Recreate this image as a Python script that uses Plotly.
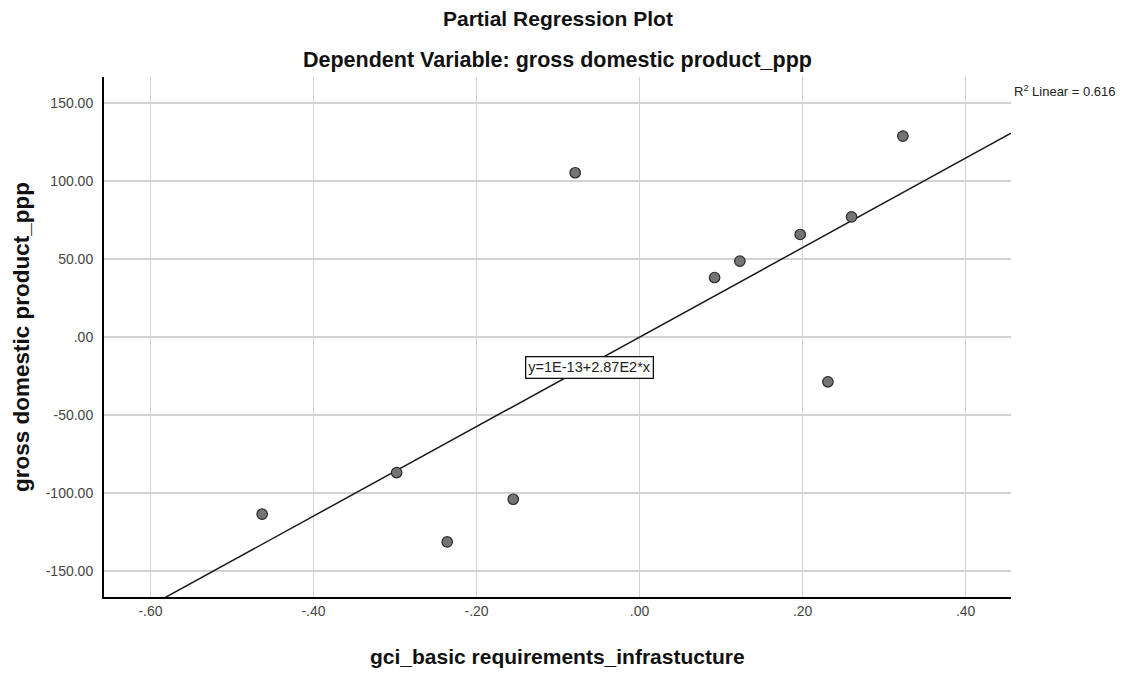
import numpy as np
import plotly.graph_objects as go

# ---- data ----
x_vals = [-0.463, -0.298, -0.236, -0.155, -0.079, 0.092, 0.123, 0.197, 0.231, 0.260, 0.323]
y_vals = [-113.6, -86.9, -131.4, -104.0, 105.4, 38.2, 48.7, 65.8, -28.7, 77.1, 128.9]

fit_intercept = 1e-13
fit_slope = 287.0
r2_text = "R<sup>2</sup> Linear = 0.616"
eq_text = "y=1E-13+2.87E2*x"

x_tickvals = [-0.6, -0.4, -0.2, 0.0, 0.2, 0.4]
x_ticktext = ["-.60", "-.40", "-.20", ".00", ".20", ".40"]
y_tickvals = [-150, -100, -50, 0, 50, 100, 150]
y_ticktext = ["-150.00", "-100.00", "-50.00", ".00", "50.00", "100.00", "150.00"]

title_text = "Partial Regression Plot"
subtitle_text = "Dependent Variable: gross domestic product_ppp"
x_title = "gci_basic requirements_infrastucture"
y_title = "gross domestic product_ppp"

x_range = [-0.657, 0.4556]
y_range = [-166.7, 166.8]

FONT = "Liberation Sans, Arial, Helvetica, sans-serif"

fig = go.Figure()

# fit line across the axis range (clipped by the plot area)
lx = np.linspace(x_range[0], x_range[1], 50)
ly = fit_intercept + fit_slope * lx
fig.add_trace(go.Scatter(x=lx, y=ly, mode="lines",
                         line=dict(color="#1a1a1a", width=1.5),
                         hoverinfo="skip", showlegend=False))

fig.add_trace(go.Scatter(x=x_vals, y=y_vals, mode="markers",
                         marker=dict(size=10.5, color="#747474",
                                     line=dict(color="#2a2a2a", width=1.2)),
                         showlegend=False))

axis_common = dict(showgrid=True, gridcolor="#d2d2d2", gridwidth=1.6,
                   zeroline=False, showline=True, linecolor="black", linewidth=2,
                   ticks="", tickfont=dict(family=FONT, size=14, color="#444444"),
                   mirror=False)

fig.update_xaxes(range=x_range, tickvals=x_tickvals, ticktext=x_ticktext, **axis_common)
fig.update_yaxes(range=y_range, tickvals=y_tickvals, ticktext=y_ticktext,
                 ticklabelstandoff=6, **axis_common)

L, R, T, B = 104, 131, 77, 76
W, H = 1142, 673
pw, ph = W - L - R, H - T - B

def px_x(px):
    return (px - L) / pw

def px_y(py):
    return (H - B - py) / ph

annotations = [
    dict(text=f"<b>{title_text}</b>", x=0.5, y=px_y(19), xref="paper", yref="paper",
         showarrow=False, font=dict(family=FONT, size=21, color="#111111"),
         xanchor="center", yanchor="middle"),
    dict(text=f"<b>{subtitle_text}</b>", x=0.5, y=px_y(60), xref="paper", yref="paper",
         showarrow=False, font=dict(family=FONT, size=21.5, color="#111111"),
         xanchor="center", yanchor="middle"),
    dict(text=f"<b>{x_title}</b>", x=0.5, y=px_y(656), xref="paper", yref="paper",
         showarrow=False, font=dict(family=FONT, size=21, color="#111111"),
         xanchor="center", yanchor="middle"),
    dict(text=f"<b>{y_title}</b>", x=px_x(21), y=0.5, xref="paper", yref="paper",
         showarrow=False, textangle=-90, font=dict(family=FONT, size=22.5, color="#111111"),
         xanchor="center", yanchor="middle"),
    dict(text=r2_text, x=px_x(1012), y=px_y(91), xref="paper", yref="paper",
         showarrow=False, font=dict(family=FONT, size=13, color="#222222"),
         xanchor="left", yanchor="middle"),
    dict(text=eq_text, x=-0.062, y=-19.3, xref="x", yref="y",
         showarrow=False, font=dict(family=FONT, size=14.5, color="#222222"),
         bgcolor="white", bordercolor="#111111", borderwidth=1.3, borderpad=2,
         xanchor="center", yanchor="middle"),
]

fig.update_layout(width=W, height=H, autosize=False,
                  margin=dict(l=L, r=R, t=T, b=B, pad=0),
                  paper_bgcolor="white", plot_bgcolor="white",
                  annotations=annotations, showlegend=False,
                  hovermode=False,
                  font=dict(family=FONT))

fig.write_html("out.html",
               config={"displayModeBar": False, "staticPlot": True},
               post_script="document.body.style.margin='0';document.body.style.overflow='hidden';")
